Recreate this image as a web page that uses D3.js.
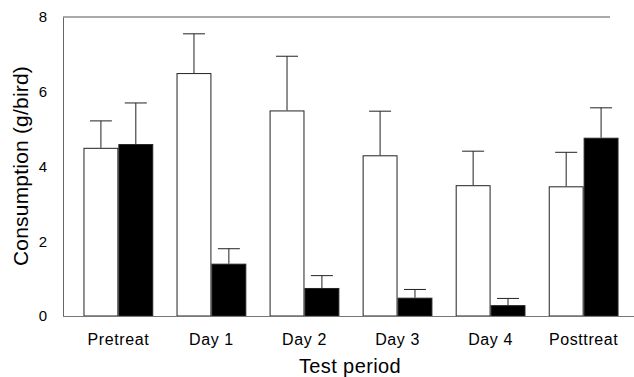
<!DOCTYPE html>
<html><head><meta charset="utf-8">
<script src="https://cdn.jsdelivr.net/npm/d3@7"></script>
<style>body{margin:0;background:#fff;} text{font-family:"Liberation Sans",Arial,sans-serif;fill:#000;}</style>
</head><body>
<svg id="c" width="634" height="377"></svg>
<script>
const categories = ["Pretreat","Day 1","Day 2","Day 3","Day 4","Posttreat"];
const seriesNames = ["control","treated"];
const controlMean = [4.5, 6.5, 5.5, 4.3, 3.5, 3.47];
const controlErr  = [5.22, 7.55, 6.95, 5.48, 4.41, 4.38];
const treatedMean = [4.6, 1.4, 0.75, 0.49, 0.29, 4.77];
const treatedErr  = [5.7, 1.8, 1.08, 0.71, 0.47, 5.57];
const yTicks = [0,2,4,6,8];

const svg = d3.select("#c");
const x = d3.scaleBand().domain(categories).range([63, 639]).paddingInner(0.25).paddingOuter(0.22);
const xs = d3.scaleBand().domain(seriesNames).range([0, x.bandwidth()]);
const y = d3.scaleLinear().domain([0, 8]).range([316, 17]);

const rows = [];
categories.forEach((c,i)=>{
  rows.push({c, s:"control", v:controlMean[i], e:controlErr[i]});
  rows.push({c, s:"treated", v:treatedMean[i], e:treatedErr[i]});
});

// frame lines
svg.append("line").attr("x1",63).attr("x2",610).attr("y1",y(8)).attr("y2",y(8)).attr("stroke","#555").attr("stroke-width",1);

// error bars (upward only)
const eb = svg.append("g").attr("stroke","#222").attr("stroke-width",1);
rows.forEach(d=>{
  const cx = x(d.c) + xs(d.s) + xs.bandwidth()/2;
  eb.append("line").attr("x1",cx).attr("x2",cx).attr("y1",y(d.v)).attr("y2",y(d.e));
  eb.append("line").attr("x1",cx-11).attr("x2",cx+11).attr("y1",y(d.e)).attr("y2",y(d.e));
});

// bars
svg.append("g").selectAll("rect").data(rows).join("rect")
  .attr("x", d=>x(d.c)+xs(d.s)+0.5)
  .attr("y", d=>y(d.v)+0.5)
  .attr("width", xs.bandwidth()-1)
  .attr("height", d=>y(0)-y(d.v)-0.5)
  .attr("fill", d=>d.s==="control"?"#fff":"#000")
  .attr("stroke", "#222").attr("stroke-width",1);

// axes
const yAxis = d3.axisLeft(y).tickValues(yTicks).tickSize(0).tickPadding(16);
const ga = svg.append("g").attr("transform","translate(63,0)").call(yAxis);
ga.select(".domain").attr("stroke","#666");
ga.selectAll("text").style("font-size","15px").attr("fill","#000");

const xAxis = d3.axisBottom(x).tickSize(0).tickPadding(18);
const gx = svg.append("g").attr("transform","translate(0,316)").call(xAxis);
gx.select(".domain").remove();
gx.selectAll("text").style("font-size","16px").style("letter-spacing","0.6px").attr("fill","#000");
svg.append("line").attr("x1",63).attr("x2",634).attr("y1",316.5).attr("y2",316.5).attr("stroke","#777");

// titles
svg.append("text").attr("x",350).attr("y",373).attr("text-anchor","middle").style("font-size","20px").style("letter-spacing","0.4px").text("Test period");
svg.append("text").attr("transform","translate(28,166) rotate(-90)").attr("text-anchor","middle").style("font-size","21px").style("letter-spacing","0.2px").text("Consumption (g/bird)");
</script>
</body></html>
